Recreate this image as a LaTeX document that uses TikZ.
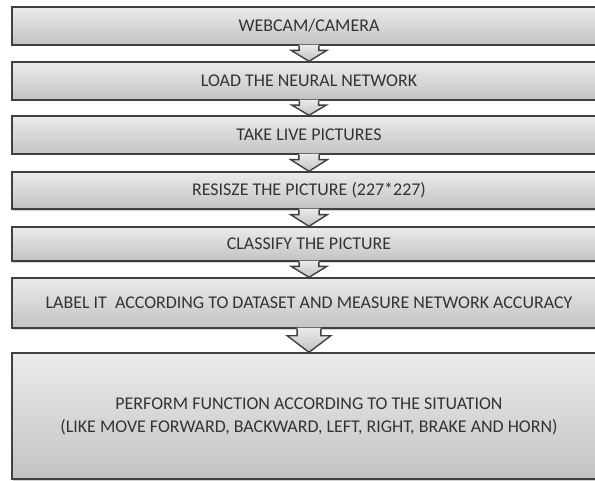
\documentclass[tikz,border=0pt]{standalone}
\usepackage{fontspec}
\setmainfont{Carlito}
\definecolor{fcLine}{HTML}{404040}
\definecolor{fcText}{HTML}{333333}
\definecolor{fcTop}{HTML}{EBEBEB}
\definecolor{fcBottom}{HTML}{C3C3C3}
\usetikzlibrary{calc,shadows}

\tikzset{
  stage/.style={draw=fcLine, line width=1.4bp, top color=fcTop, bottom color=fcBottom,
    minimum width=594bp, inner sep=0pt, align=center, text=fcText,
    font=\fontsize{18}{23}\selectfont,
    drop shadow={shadow xshift=1bp, shadow yshift=-1.5bp, opacity=0.35}},
  flowfill/.style={top color=fcTop, bottom color=fcBottom},
  flowline/.style={draw=fcLine, line width=1.4bp, line join=miter}
}

% block arrow from the bottom of #1 to the top of #2
\newcommand{\stagearrow}[2]{%
  \fill[flowfill] let \p1=(#1.south), \p2=(#2.north), \n1={\y1-\y2},
      \n2={0.25*\n1+6pt}, \n3={0.5*\n1+10pt}, \n4={0.3*\n1} in
    (\x1-\n2,\y1+1.2pt) -- (\x1-\n2,\y1-\n4) -- (\x1-\n3,\y1-\n4) -- (\x1,\y2)
    -- (\x1+\n3,\y1-\n4) -- (\x1+\n2,\y1-\n4) -- (\x1+\n2,\y1+1.2pt) -- cycle;
  \draw[flowline] let \p1=(#1.south), \p2=(#2.north), \n1={\y1-\y2},
      \n2={0.25*\n1+6pt}, \n3={0.5*\n1+10pt}, \n4={0.3*\n1} in
    (\x1-\n2,\y1) -- (\x1-\n2,\y1-\n4) -- (\x1-\n3,\y1-\n4) -- (\x1,\y2)
    -- (\x1+\n3,\y1-\n4) -- (\x1+\n2,\y1-\n4) -- (\x1+\n2,\y1);
}

\begin{document}
\begin{tikzpicture}[x=1bp, y=-1bp]
  \useasboundingbox (0,0) rectangle (595,481);
  \clip (0,0) rectangle (595,481);
  % process stages
  \node[stage, minimum height=38bp] (webcam) at (309,26) {WEBCAM/CAMERA};
  \node[stage, minimum height=38bp] (loadnet) at (309,81) {LOAD THE NEURAL NETWORK};
  \node[stage, minimum height=38bp] (livepic) at (309,135) {TAKE LIVE PICTURES};
  \node[stage, minimum height=37bp] (resize) at (309,190.5) {RESISZE THE PICTURE (227*227)};
  \node[stage, minimum height=34bp] (classify) at (309,244) {CLASSIFY THE PICTURE};
  \node[stage, minimum height=50bp] (labelit) at (309,303) {LABEL IT~~ACCORDING TO DATASET AND MEASURE NETWORK ACCURACY};
  \node[stage, minimum height=126bp] (perform) at (309,416)
    {PERFORM FUNCTION ACCORDING TO THE SITUATION\\(LIKE MOVE FORWARD, BACKWARD, LEFT, RIGHT, BRAKE AND HORN)};
  % arrows between stages
  \stagearrow{webcam}{loadnet}
  \stagearrow{loadnet}{livepic}
  \stagearrow{livepic}{resize}
  \stagearrow{resize}{classify}
  \stagearrow{classify}{labelit}
  \stagearrow{labelit}{perform}
\end{tikzpicture}
\end{document}
